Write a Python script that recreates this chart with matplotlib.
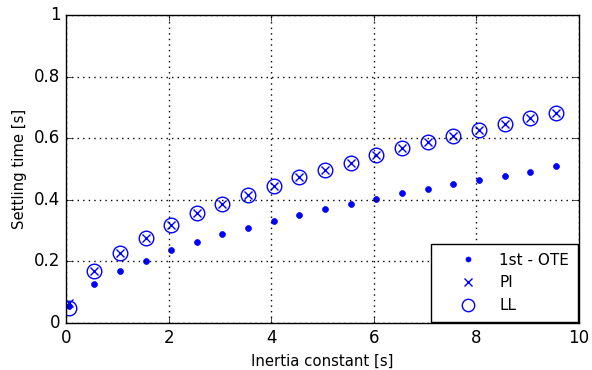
import matplotlib
matplotlib.use("Agg")
import matplotlib.pyplot as plt

plt.style.use("classic")

# inertia constant [s]
inertia = [0.05, 0.55, 1.05, 1.55, 2.05, 2.55, 3.05, 3.55, 4.05, 4.55,
           5.05, 5.55, 6.05, 6.55, 7.05, 7.55, 8.05, 8.55, 9.05, 9.55]

# settling times [s]
ote = [0.054, 0.128, 0.170, 0.203, 0.237, 0.262, 0.288, 0.309, 0.331, 0.352,
       0.369, 0.386, 0.403, 0.421, 0.436, 0.450, 0.466, 0.479, 0.492, 0.509]
pi = [0.066, 0.168, 0.227, 0.275, 0.317, 0.357, 0.387, 0.417, 0.444, 0.473,
      0.498, 0.519, 0.546, 0.568, 0.588, 0.608, 0.626, 0.648, 0.666, 0.683]
ll = [0.049, 0.168, 0.227, 0.275, 0.317, 0.357, 0.387, 0.417, 0.444, 0.473,
      0.498, 0.519, 0.546, 0.568, 0.588, 0.608, 0.626, 0.648, 0.666, 0.683]

fig = plt.figure(figsize=(5.92, 3.7), dpi=100, facecolor="white")
ax = fig.add_axes([0.1115, 0.127, 0.8665, 0.832])

ax.plot(inertia, ote, "b.", markersize=8.5, label="1st - OTE")
ax.plot(inertia, pi, "bx", markersize=6, markeredgewidth=1.0, label="PI")
ax.plot(inertia, ll, "o", markersize=10.5, markerfacecolor="none",
        markeredgecolor="b", markeredgewidth=1.0, label="LL")

ax.set_xlim(0, 10)
ax.set_ylim(0, 1)
ax.set_xticks([0, 2, 4, 6, 8, 10])
ax.set_yticks([0, 0.2, 0.4, 0.6, 0.8, 1])
ax.set_yticklabels(["0", "0.2", "0.4", "0.6", "0.8", "1"])
ax.tick_params(labelsize=12)
ax.grid(True, color="k", linestyle=":", linewidth=1.0)

ax.set_xlabel("Inertia constant [s]", fontsize=10.75)
ax.set_ylabel("Settling time [s]", fontsize=10.75)

ax.legend(loc="lower right", numpoints=1, fontsize=11, borderaxespad=0.05,
          fancybox=False, borderpad=0.6, handlelength=3.6, handletextpad=0.25,
          labelspacing=0.5, markerscale=0.85)

fig.savefig("out.png", dpi=100, facecolor="white")
